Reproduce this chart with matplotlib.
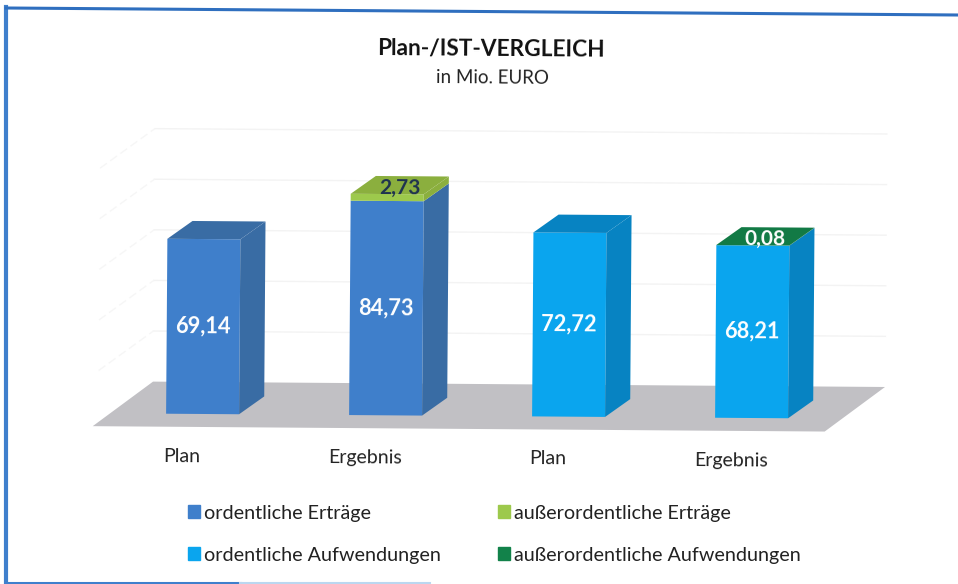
import matplotlib
matplotlib.use("Agg")
import matplotlib.pyplot as plt
from matplotlib.lines import Line2D
from matplotlib.patches import Patch, Polygon
from matplotlib.transforms import Affine2D

categories = ["Plan", "Ergebnis", "Plan", "Ergebnis"]
ordentlich = [69.14, 84.73, 72.72, 68.21]
ausserordentlich = [0, 2.73, 0, 0.08]
labels_ordentlich = ["69,14", "84,73", "72,72", "68,21"]
labels_ausser = [None, "2,73", None, "0,08"]
grid_values = [20, 40, 60, 80, 100]
legend_labels = ["ordentliche Erträge", "ordentliche Aufwendungen",
                 "außerordentliche Erträge", "außerordentliche Aufwendungen"]

BLUE = "#3F7FCB"
BLUE_DARK = "#396CA4"
CYAN = "#0AA5EE"
CYAN_DARK = "#0783C2"
LIME = "#9DC94C"
LIME_DARK = "#8BAF3E"
GREEN = "#12824A"
GREEN_DARK = "#127A45"
FLOOR = "#C1C0C4"
BORDER = "#3F7FCC"
TEXT = "#222222"

# front colour / side+top colour per bar
lower_colors = [BLUE, BLUE, CYAN, CYAN]
lower_dark = [BLUE_DARK, BLUE_DARK, CYAN_DARK, CYAN_DARK]
upper_colors = [None, LIME, None, GREEN]
upper_dark = [None, LIME_DARK, None, GREEN_DARK]

W, H = 958, 584
X_STEP = 183.0    # pixels per category
Y_SCALE = 2.53    # pixels per Mio. EURO
X0, Y0 = 203.5, 416.0
BAR_W = 73 / X_STEP
BAR_DX, BAR_DY = 25 / X_STEP, 18 / Y_SCALE    # depth of a bar
FLOOR_DX, FLOOR_DY = 60 / X_STEP, 45 / Y_SCALE    # depth of floor
FLOOR_FRONT = -13 / Y_SCALE
TILT = -0.42    # the page was scanned slightly rotated

plt.rcParams["font.family"] = ["Lato", "DejaVu Sans"]

fig = plt.figure(figsize=(W / 100, H / 100), dpi=100)
ax = fig.add_axes([0, 0, 1, 1])
ax.set_xlim(-X0 / X_STEP, (W - X0) / X_STEP)
ax.set_ylim((Y0 - H) / Y_SCALE, Y0 / Y_SCALE)
ax.axis("off")

tr = ax.transData + Affine2D().rotate_deg_around(W / 2, H / 2, TILT)
px = Affine2D().scale(1 / W, -1 / H).translate(0, 1) + fig.transFigure

# floor
fx0, fx1 = -0.6, 3.4
ax.add_patch(Polygon([(fx0, FLOOR_FRONT), (fx1, FLOOR_FRONT),
                      (fx1 + FLOOR_DX, FLOOR_FRONT + FLOOR_DY),
                      (fx0 + FLOOR_DX, FLOOR_FRONT + FLOOR_DY)],
                     fc=FLOOR, ec="none", transform=tr, zorder=1))

# gridlines on the back and side wall
wall_y = FLOOR_FRONT + FLOOR_DY
for v in grid_values:
    ax.plot([fx0 + FLOOR_DX, fx1 + FLOOR_DX], [wall_y + v, wall_y + v], color="#F3F3F3",
            lw=1.0, transform=tr, zorder=1)
    ax.plot([fx0 + 0.03, fx0 + FLOOR_DX], [FLOOR_FRONT + v + 2, wall_y + v], color="#F6F6F6",
            lw=1.0, ls=(0, (6, 3)), transform=tr, zorder=1)


def draw_block(x, bottom, height, front, dark, z):
    ax.bar(x, height, BAR_W, bottom=bottom, color=front, transform=tr, zorder=z)
    r = x + BAR_W / 2
    top = bottom + height
    ax.add_patch(Polygon([(r, bottom), (r + BAR_DX, bottom + BAR_DY),
                          (r + BAR_DX, top + BAR_DY), (r, top)],
                         fc=dark, ec="none", transform=tr, zorder=z))


for i in range(len(categories)):
    draw_block(i, 0, ordentlich[i], lower_colors[i], lower_dark[i], 3)
    total = ordentlich[i] + ausserordentlich[i]
    top_color = lower_dark[i]
    if ausserordentlich[i] > 0:
        draw_block(i, ordentlich[i], ausserordentlich[i], upper_colors[i], upper_dark[i], 3)
        top_color = upper_dark[i]
    l, r = i - BAR_W / 2, i + BAR_W / 2
    ax.add_patch(Polygon([(l, total), (r, total), (r + BAR_DX, total + BAR_DY),
                          (l + BAR_DX, total + BAR_DY)],
                         fc=top_color, ec="none", transform=tr, zorder=3))
    ax.text(i, ordentlich[i] / 2, labels_ordentlich[i], color="white", fontsize=15.7, fontweight="bold",
            ha="center", va="center", rotation=TILT, transform=tr, zorder=5)
    if labels_ausser[i]:
        ax.text(i + BAR_DX / 2, total + BAR_DY / 2 - 1, labels_ausser[i],
                color="#1F3350" if i == 1 else "white", fontsize=15, fontweight="bold",
                ha="center", va="center", rotation=TILT, transform=tr, zorder=5)
    ax.text(i - 20 / X_STEP, -42.5 / Y_SCALE, categories[i], color=TEXT, fontsize=14,
            ha="center", va="center", rotation=TILT, transform=tr)

# title
ax.text(491, 49, "Plan-/IST-VERGLEICH", color="#111111", fontsize=16.3, fontweight="bold",
        ha="center", va="center", rotation=TILT, transform=px)
ax.text(492, 78, "in Mio. EURO", color=TEXT, fontsize=13.5, ha="center", va="center",
        rotation=TILT, transform=px)

# legend
handles = [Patch(color=BLUE), Patch(color=CYAN), Patch(color=LIME), Patch(color=GREEN)]
ax.legend(handles, legend_labels, ncol=2, frameon=False, loc="upper left",
          bbox_to_anchor=(188, 504.5), bbox_transform=px, fontsize=14.2, labelcolor=TEXT,
          handlelength=0.6, handleheight=0.6, handletextpad=0.2,
          labelspacing=1.27, columnspacing=2.9, borderpad=0, borderaxespad=0)

# scan frame
for xs, ys, c, lw in [([6, 6], [7, 584], BORDER, 3), ([6, 958], [8, 15], "#2F6FBF", 2.2),
                      ([6, 240], [583, 583], BORDER, 2.2), ([240, 430], [583, 583], "#BBD7F0", 1.5)]:
    fig.add_artist(Line2D(xs, ys, color=c, lw=lw, transform=px))

fig.savefig("out.png", dpi=100)
